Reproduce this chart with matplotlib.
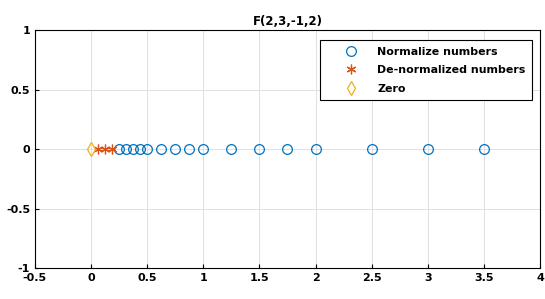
import numpy as np
import matplotlib.pyplot as plt

normalized = [0.25, 0.3125, 0.375, 0.4375, 0.5, 0.625, 0.75, 0.875,
              1.0, 1.25, 1.5, 1.75, 2.0, 2.5, 3.0, 3.5]
denormalized = [0.0625, 0.125, 0.1875]
zero = [0.0]

fig = plt.figure(figsize=(5.45, 2.99), dpi=100)
ax = fig.add_axes([0.064, 0.104, 0.927, 0.794])

ax.plot(normalized, np.zeros(len(normalized)), 'o', mfc='none', mec='#0072BD',
        ms=7, mew=0.9, label='Normalize numbers')
ax.plot(denormalized, np.zeros(len(denormalized)), ls='none', color='#D95319',
        ms=7, mew=0.9, marker=(6, 2, 0), label='De-normalized numbers')
ax.plot(zero, np.zeros(len(zero)), 'd', mfc='none', mec='#EDB120',
        ms=7, mew=0.9, label='Zero')

ax.set_xlim(-0.5, 4)
ax.set_ylim(-1, 1)
ax.set_xticks(np.arange(-0.5, 4.01, 0.5))
ax.set_yticks([-1, -0.5, 0, 0.5, 1])
ax.set_xticklabels(['-0.5', '0', '0.5', '1', '1.5', '2', '2.5', '3', '3.5', '4'])
ax.set_yticklabels(['-1', '-0.5', '0', '0.5', '1'])
ax.grid(True, color='#e0e0e0', linewidth=0.7)
ax.set_axisbelow(True)
ax.tick_params(direction='in', length=3, labelsize=8, width=0.8)
for lab in ax.get_xticklabels() + ax.get_yticklabels():
    lab.set_fontweight('bold')
for s in ax.spines.values():
    s.set_linewidth(0.8)
ax.set_title('F(2,3,-1,2)', fontsize=8.5, fontweight='bold', pad=4)

leg = ax.legend(loc='upper right', bbox_to_anchor=(0.984, 0.958), borderaxespad=0,
                prop={'size': 7.9, 'weight': 'bold'}, fancybox=False,
                edgecolor='black', framealpha=1, handlelength=4.4,
                handletextpad=0.2, borderpad=0.6, labelspacing=0.75)
leg.get_frame().set_linewidth(0.8)

fig.savefig('out.png', dpi=100)
